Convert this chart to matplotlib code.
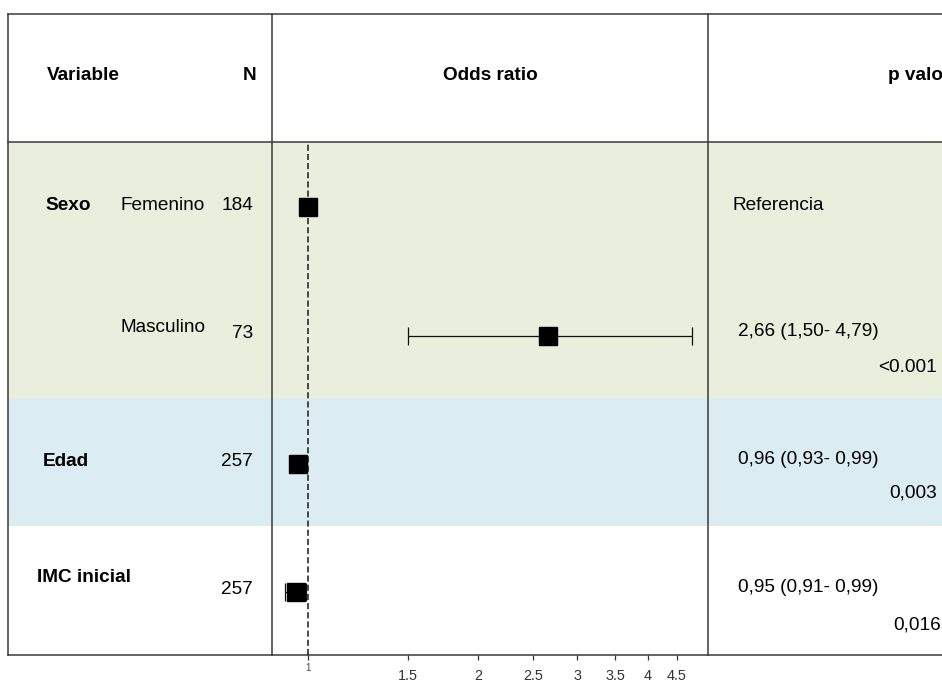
import numpy as np
import matplotlib
matplotlib.use("Agg")
import matplotlib.pyplot as plt
from matplotlib.ticker import FixedLocator, FixedFormatter

# datos del modelo
variables = ["Sexo", "", "Edad", "IMC inicial"]
categorias = ["Femenino", "Masculino", "", ""]
n_vals = ["184", "73", "257", "257"]
odds = [1.0, 2.66, 0.96, 0.95]
ci_low = [np.nan, 1.50, 0.93, 0.91]
ci_high = [np.nan, 4.79, 0.99, 0.99]
or_text = ["Referencia", "2,66 (1,50- 4,79)", "0,96 (0,93- 0,99)", "0,95 (0,91- 0,99)"]
p_text = ["", "<0.001", "0,003", "0,016"]
ticks_major = [1.5, 2, 2.5, 3, 3.5, 4, 4.5]
tick_labels = ["1.5", "2", "2.5", "3", "3.5", "4", "4.5"]

W, H = 942, 680
FS = 13.7
plt.rcParams["font.family"] = ["Liberation Sans", "DejaVu Sans"]


def main():
    fig = plt.figure(figsize=(W / 100, H / 100), dpi=100)

    # fondo: tabla en coordenadas de pixel
    bg = fig.add_axes([0, 0, 1, 1])
    bg.set_xlim(0, W)
    bg.set_ylim(H, 0)
    bg.axis("off")

    line_c = "#3a3a3a"
    bg.fill_between([8, W], 142, 398, color="#E9EEDD", lw=0)
    bg.fill_between([8, W], 398, 526, color="#DBEDF3", lw=0)
    for y in [14, 142, 655]:
        bg.plot([8, W], [y, y], color=line_c, lw=1.1)
    for x in [8, 272, 708]:
        bg.plot([x, x], [14, 655], color=line_c, lw=1.1)

    # cabecera
    bg.text(47, 76, "Variable", fontsize=FS, fontweight="bold", va="center")
    bg.text(256, 76, "N", fontsize=FS, fontweight="bold", va="center", ha="right")
    bg.text(490, 76, "Odds ratio", fontsize=FS, fontweight="bold", va="center", ha="center")
    bg.text(888, 76, "p valor", fontsize=FS, fontweight="bold", va="center")

    # columnas de texto
    var_y = [205, 0, 461, 578]
    cat_y = [206, 328, 0, 0]
    n_y = [206, 333, 461, 589]
    var_x = [45, 0, 43, 37]
    or_y = [205, 332, 459, 587]
    p_y = [0, 368, 493, 625]
    p_x = [0, 937, 937, 941]
    for i in range(4):
        if variables[i]:
            bg.text(var_x[i], var_y[i], variables[i], fontsize=FS, fontweight="bold", va="center")
        if categorias[i]:
            bg.text(120, cat_y[i], categorias[i], fontsize=FS, va="center")
        bg.text(253, n_y[i], n_vals[i], fontsize=FS, va="center", ha="right")
        bg.text(732 if i == 0 else 738, or_y[i], or_text[i], fontsize=FS, va="center")
        if p_text[i]:
            bg.text(p_x[i], p_y[i], p_text[i], fontsize=FS, va="center", ha="right")

    # forest plot
    ax = fig.add_axes([272 / W, 1 - 655 / H, 436 / W, (655 - 142) / H])
    ax.set_facecolor("none")
    ax.set_xscale("log")
    ax.set_xlim(0.8623, 5.111)
    ax.set_ylim(4, 0)
    for s in ax.spines.values():
        s.set_visible(False)

    ax.axvline(1, color="#1a1a1a", lw=1.1, dashes=(4, 2))
    ypos = np.arange(4) + 0.51
    for i in range(4):
        if not np.isnan(ci_low[i]):
            ax.errorbar(odds[i], ypos[i],
                        xerr=[[odds[i] - ci_low[i]], [ci_high[i] - odds[i]]],
                        fmt="none", ecolor="#111111", elinewidth=0.9,
                        capsize=6.8, capthick=0.9)
    ax.plot(odds, ypos, "s", color="black", markersize=13.3, zorder=5)

    ax.set_yticks([])
    ax.xaxis.set_major_locator(FixedLocator(ticks_major))
    ax.xaxis.set_major_formatter(FixedFormatter(tick_labels))
    ax.xaxis.set_minor_locator(FixedLocator([1]))
    ax.xaxis.set_minor_formatter(FixedFormatter(["1"]))
    ax.tick_params(axis="x", which="major", length=3.5, width=0.9, color="#333333",
                   labelsize=10.4, pad=6.5, labelcolor="#333333")
    ax.tick_params(axis="x", which="minor", length=3.5, width=0.9, color="#333333",
                   labelsize=7, pad=2, labelcolor="#444444")

    fig.savefig("out.png", dpi=100)


if __name__ == "__main__":
    main()
